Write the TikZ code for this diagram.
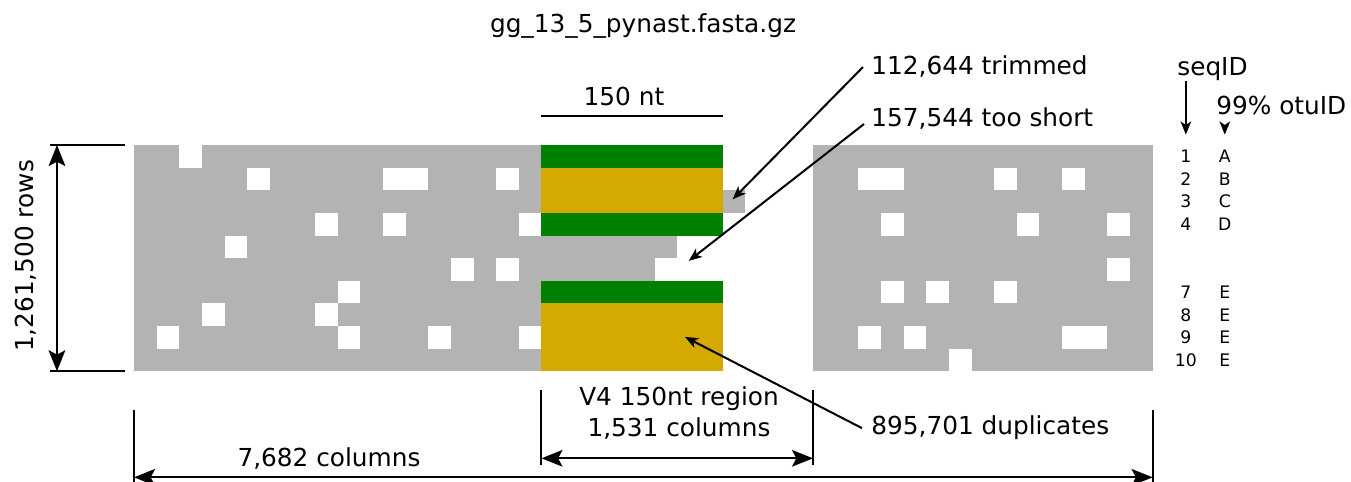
\documentclass[tikz,border=0pt]{standalone}
\usepackage{fontspec}
\setmainfont{DejaVu Sans}
\usepackage{tikz}
\usetikzlibrary{calc, positioning, arrows.meta}
\definecolor{cellgrey}{HTML}{B3B3B3}
\definecolor{regiongreen}{HTML}{008000}
\definecolor{regionyellow}{HTML}{D4AA00}
\tikzstyle{lbl}=[inner sep=0pt, font=\fontsize{14.1}{17}\selectfont]
\tikzstyle{idlbl}=[inner sep=0pt, font=\fontsize{9.8}{11}\selectfont]
\tikzstyle{ext}=[line width=1.15pt]
\tikzstyle{dim}=[line width=1.15pt, {Stealth[length=12pt,width=9.5pt,inset=2.5pt]}-{Stealth[length=12pt,width=9.5pt,inset=2.5pt]}]
\tikzstyle{ptr}=[line width=1.15pt, -{Stealth[length=7.5pt,width=6pt,inset=2pt]}]

\begin{document}
\begin{tikzpicture}[x=0.02cm, y=-0.02cm]
\useasboundingbox (0,0) rectangle (1351,482);
% alignment grid, one unit = one cell
\begin{scope}[shift={(2.68cm,-2.9cm)}, x=0.4528cm, y=-0.4528cm]
\fill[cellgrey] (0,0) rectangle (18,10);
\fill[cellgrey] (30,0) rectangle (45,10);
\fill[cellgrey] (17.9,4) rectangle (24,5);
\fill[cellgrey] (17.9,5) rectangle (23,6);
\fill[cellgrey] (26,2) rectangle (27,3);
\foreach \c/\r in {2/0,5/1,11/1,12/1,16/1,8/3,11/3,17/3,4/4,14/5,16/5,9/6,3/7,8/7,1/8,9/8,13/8,17/8,
32/1,33/1,38/1,41/1,33/3,39/3,43/3,43/5,33/6,35/6,38/6,32/8,34/8,41/8,42/8,36/9}
\fill[white] (\c,\r) rectangle ++(1,1);
\foreach \r in {0,3,6}
\fill[regiongreen] (18,\r) rectangle ++(8,1);
\fill[regionyellow] (18,1) rectangle (26,3);
\fill[regionyellow] (18,7) rectangle (26,10);
%
\coordinate (gtl) at (0,0);
\coordinate (gbl) at (0,10);
\coordinate (gbr) at (45,10);
\coordinate (ntl) at (18,0);
\coordinate (ntr) at (26,0);
\coordinate (v4l) at (18,10);
\coordinate (v4r) at (30,10);
\coordinate (trimtip) at (26.45,2.4);
\coordinate (shorttip) at (24.51,5.12);
\coordinate (duptip) at (24.34,8.48);
%
\foreach \r/\s/\o in {0/1/A,1/2/B,2/3/C,3/4/D,6/7/E,7/8/E,8/9/E,9/10/E}
{
\node[idlbl] (seq\s) at (46.47,\r+0.5) {\s};
\node[idlbl] (otu\s) at (48.19,\r+0.5) {\o};
}
\end{scope}
%
\node[lbl, anchor=base] (title) at (643,33) {gg\_13\_5\_pynast.fasta.gz};
\node[lbl, anchor=base] (ntlbl) at (624,106) {150 nt};
\node[lbl, anchor=base west] (trim) at (871,75) {112,644 trimmed};
\node[lbl, anchor=base west] (short) at (871,127) {157,544 too short};
\node[lbl, anchor=base west] (dup) at (871,435) {895,701 duplicates};
\node[lbl, anchor=base west] (seqhead) at (1177,76) {seqID};
\node[lbl, anchor=base west] (otuhead) at (1216,115) {99\% otuID};
\node[lbl, anchor=base, rotate=90] (rows) at (33,256) {1,261,500 rows};
\node[lbl, anchor=base] (allcols) at (329,466) {7,682 columns};
\node[lbl, anchor=base] (v4name) at (679,405) {V4 150nt region};
\node[lbl, anchor=base] (v4cols) at (679,437) {1,531 columns};
%
\draw[ptr] ([xshift=-0.16cm]trim.west) -- (trimtip);
\draw[ptr] ([shift={(-0.14cm,-0.1cm)}]short.west) -- (shorttip);
\draw[ptr] ([xshift=-0.18cm]dup.west) -- (duptip);
\draw[ptr] (seqhead.south -| seq1) -- ($(seq1.north)+(0,-15)$);
\draw[ptr] ($(otuhead.south -| otu1)+(0,9)$) -- ($(otu1.north)+(0,-15)$);
%
\draw[ext] ($(ntl)+(0,-29)$) -- ($(ntr)+(0,-29)$);
\draw[ext] ($(gtl)+(-84,0)$) -- ($(gtl)+(-9,0)$);
\draw[ext] ($(gbl)+(-84,0)$) -- ($(gbl)+(-9,0)$);
\draw[dim] ($(gtl)+(-77,0)$) -- ($(gbl)+(-77,0)$);
\draw[ext] ($(gbl)+(0,39)$) -- ($(gbl)+(0,111)$);
\draw[ext] ($(gbr)+(0,39)$) -- ($(gbr)+(0,111)$);
\draw[dim] ($(gbl)+(0,106)$) -- ($(gbr)+(0,106)$);
\draw[ext] ($(v4l)+(0,19)$) -- ($(v4l)+(0,94)$);
\draw[ext] ($(v4r)+(0,19)$) -- ($(v4r)+(0,94)$);
\draw[dim] ($(v4l)+(0,87)$) -- ($(v4r)+(0,87)$);
%
\end{tikzpicture}
\end{document}
